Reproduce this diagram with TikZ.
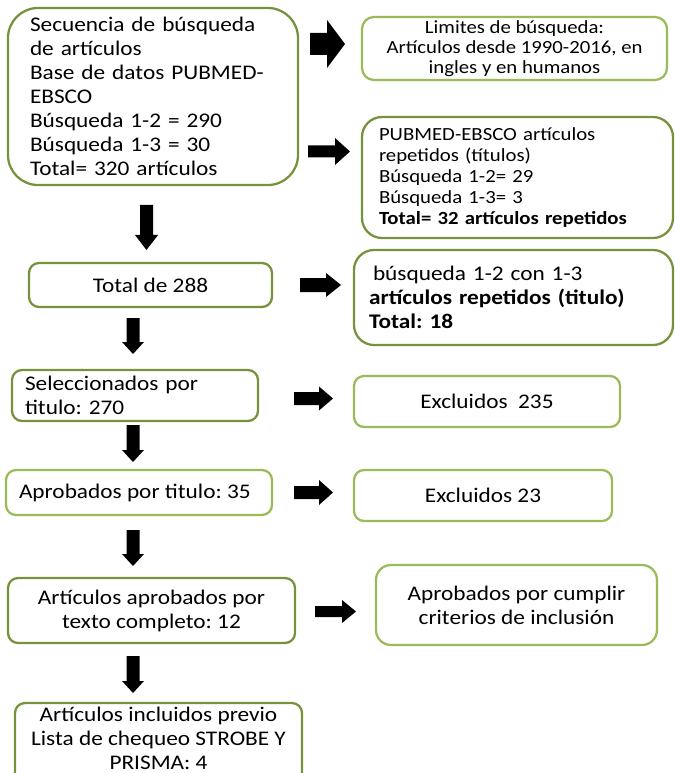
\documentclass[tikz,border=0pt]{standalone}
\usepackage{fontspec}
\setmainfont{Carlito}[FakeStretch=1.12]
\definecolor{dkgreen}{HTML}{76923C}
\definecolor{ltgreen}{HTML}{9BBB59}
% right block arrow: left x, centre y, length, head half width, shaft half width, head length
\newcommand\myRarrow[6]{\fill[black] (#1,#2-#5) -- (#1+#3-#6,#2-#5) -- (#1+#3-#6,#2-#4) -- (#1+#3,#2) -- (#1+#3-#6,#2+#4) -- (#1+#3-#6,#2+#5) -- (#1,#2+#5) -- cycle;}
% down block arrow: centre x, top y, length, head half width, shaft half width, head length
\newcommand\myDarrow[6]{\fill[black] (#1-#5,#2) -- (#1-#5,#2+#3-#6) -- (#1-#4,#2+#3-#6) -- (#1,#2+#3) -- (#1+#4,#2+#3-#6) -- (#1+#5,#2+#3-#6) -- (#1+#5,#2) -- cycle;}
\tikzset{
  box/.style={draw, line width=1.7pt, fill=white, inner sep=0pt, rounded corners=7.5pt},
  dk/.style={box, draw=dkgreen},
  lt/.style={box, draw=ltgreen},
  big/.style={font=\fontsize{15.6pt}{18pt}\selectfont},
  small/.style={font=\fontsize{13.9pt}{15.9pt}\selectfont},
}
\begin{document}
\frenchspacing
\begin{tikzpicture}[x={(0.75pt,0)}, y={(0,-0.75pt)}]
\useasboundingbox (0,0) rectangle (674,773);
\fill[white] (0,0) rectangle (674,773);
\clip (0,0) rectangle (674,773);

\node[dk, big, minimum width=217.5pt, minimum height=132.75pt, rounded corners=22.5pt, text width=184.5pt, align=left] (seq) at (153,96.5)
  {Secuencia de búsqueda\\de artículos\\Base de datos PUBMED-\\EBSCO\\Búsqueda 1-2 = 290\\Búsqueda 1-3 = 30\\Total= 320 artículos};

\node[lt, font=\fontsize{13.9pt}{15pt}\selectfont, minimum width=228.75pt, minimum height=47.25pt, rounded corners=9pt, align=center] (lim) at (514.5,48.5)
  {Limites de búsqueda:\\Artículos desde 1990-2016, en\\ingles y en humanos};

\node[dk, small, minimum width=233.25pt, minimum height=90.75pt, rounded corners=15pt, text width=207.75pt, align=left] (rep) at (517.5,177.5)
  {PUBMED-EBSCO artículos\\repetidos (títulos)\\Búsqueda 1-2= 29\\Búsqueda 1-3= 3\\\textbf{Total= 32 artículos repetidos}};

\node[dk, big, minimum width=182.25pt, minimum height=33pt, align=center] (t288) at (150.5,285) {Total de 288};

\node[dk, big, minimum width=239.25pt, minimum height=71.25pt, rounded corners=15pt, text width=216.75pt, align=left] (b13) at (513.5,297.5)
  {\hspace*{3pt}búsqueda 1-2 con 1-3\\\textbf{artículos repetidos (titulo)}\\\textbf{Total: 18}};

\node[dk, big, minimum width=184.5pt, minimum height=38.25pt, text width=165pt, align=left] (sel) at (135,395.5) {Seleccionados por\\titulo: 270};

\node[lt, big, minimum width=199.5pt, minimum height=38.25pt, align=center] (ex1) at (487,401.5) {Excluidos\ \ 235};

\node[lt, big, minimum width=199.5pt, minimum height=33.75pt] (apr) at (139,492.5) {\makebox[180pt][l]{Aprobados por titulo: 35}};

\node[lt, big, minimum width=193.5pt, minimum height=38.25pt, align=center] (ex2) at (483,495.5) {Excluidos 23};

\node[dk, big, minimum width=215.25pt, minimum height=48.75pt, align=center] (full) at (151.5,610.5) {Artículos aprobados por\\texto completo: 12};

\node[lt, big, minimum width=210.75pt, minimum height=60pt, rounded corners=11.25pt, align=center] (crit) at (516.5,605) {Aprobados por cumplir\\criterios de inclusión};

\node[dk, minimum width=215.25pt, minimum height=67.5pt] (inclbox) at (158.5,748) {};
\node[big, align=center, inner sep=0pt] (incl) at (158.5,738.5) {Artículos incluidos previo\\Lista de chequeo STROBE Y\\PRISMA: 4};

% right arrows
\myRarrow{310}{44}{35}{24}{11}{18}
\myRarrow{308}{151.5}{42}{13.5}{6}{15}
\myRarrow{300}{285}{41}{12}{7}{15}
\myRarrow{294}{398.5}{39}{12}{6.5}{14}
\myRarrow{294}{492.5}{39}{12.5}{6.5}{14}
\myRarrow{315}{611.5}{41}{11.5}{5.5}{14}
% down arrows
\myDarrow{146.5}{205}{45}{11.5}{6.5}{15}
\myDarrow{133}{318}{36}{11}{6.5}{12}
\myDarrow{133}{425}{37}{11}{6.5}{12}
\myDarrow{133}{530}{36}{11}{6.5}{12}
\myDarrow{133}{656}{37}{11}{6.5}{12}
\end{tikzpicture}
\end{document}
